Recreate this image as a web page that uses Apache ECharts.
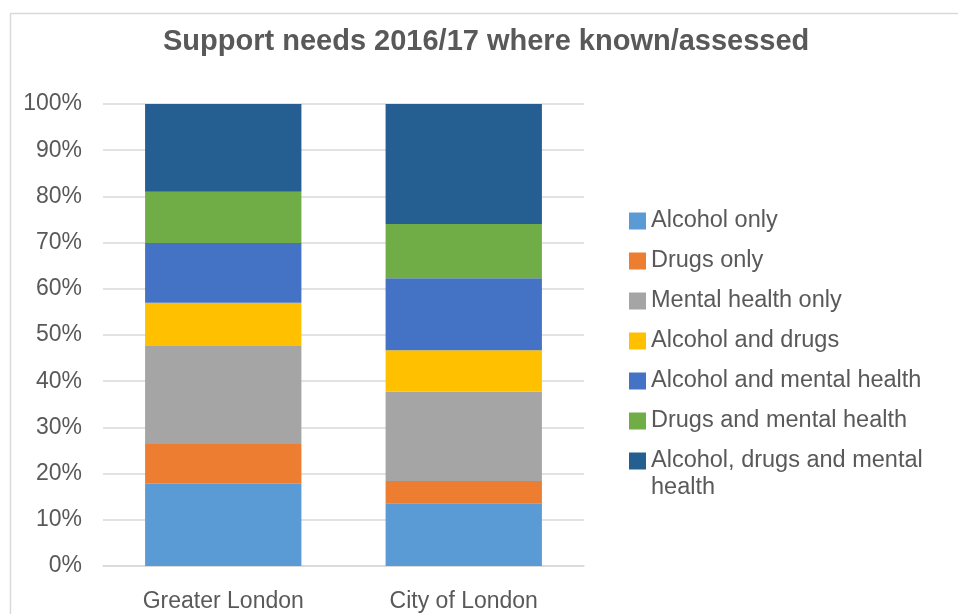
<!DOCTYPE html>
<html>
<head>
<meta charset="utf-8">
<script src="https://cdn.jsdelivr.net/npm/echarts@6/dist/echarts.min.js"></script>
<style>
html,body{margin:0;padding:0;background:#fff;}
#chart{width:958px;height:614px;}
</style>
</head>
<body>
<div id="chart"></div>
<script>
const categories = ['Greater London', 'City of London'];
const seriesNames = ['Alcohol only', 'Drugs only', 'Mental health only', 'Alcohol and drugs', 'Alcohol and mental health', 'Drugs and mental health', 'Alcohol, drugs and mental health'];
const alcoholOnly = [17.8, 13.6];
const drugsOnly = [8.6, 4.8];
const mentalHealthOnly = [21.2, 19.3];
const alcoholAndDrugs = [9.4, 9.0];
const alcoholAndMental = [12.9, 15.6];
const drugsAndMental = [11.1, 11.7];
const allThree = [19.0, 26.0];
const colors = ['#5B9BD5', '#ED7D31', '#A5A5A5', '#FFC000', '#4472C4', '#70AD47', '#255E91'];

const values = [alcoholOnly, drugsOnly, mentalHealthOnly, alcoholAndDrugs, alcoholAndMental, drugsAndMental, allThree];
const font = '"Liberation Sans", Arial, sans-serif';
const textColor = '#595959';

const chart = echarts.init(document.getElementById('chart'), null, {renderer: 'canvas'});
chart.setOption({
  animation: false,
  color: colors,
  title: {
    text: 'Support needs 2016/17 where known/assessed',
    left: 158,
    top: 22,
    textStyle: {fontFamily: font, fontSize: 29, fontWeight: 'bold', color: textColor}
  },
  graphic: [
    {type: 'rect', left: 8, top: 11, shape: {width: 1000, height: 700}, style: {fill: 'none', stroke: '#d9d9d9', lineWidth: 1.5}, silent: true, z: -1},
    {type: 'text', left: 651, top: 476, style: {text: 'health', fontFamily: font, fontSize: 23.5, fill: textColor}}
  ],
  legend: {
    orient: 'vertical',
    left: 624,
    top: 204,
    itemWidth: 17,
    itemHeight: 17,
    itemGap: 16,
    icon: 'rect',
    data: seriesNames,
    formatter: function (n) { return n === 'Alcohol, drugs and mental health' ? 'Alcohol, drugs and mental' : n; },
    textStyle: {fontFamily: font, fontSize: 23.5, color: textColor, lineHeight: 24}
  },
  grid: {left: 103, right: 374, top: 104, bottom: 48},
  xAxis: {
    type: 'category',
    data: categories,
    axisLine: {lineStyle: {color: '#d9d9d9', width: 1.5}},
    axisTick: {show: false},
    axisLabel: {fontFamily: font, fontSize: 23, color: textColor, margin: 24}
  },
  yAxis: {
    type: 'value',
    min: 0,
    max: 100,
    interval: 10,
    axisLine: {show: false},
    axisTick: {show: false},
    splitLine: {lineStyle: {color: '#d9d9d9', width: 1.5}},
    axisLabel: {fontFamily: font, fontSize: 23, color: textColor, margin: 21, formatter: '{value}%'}
  },
  series: seriesNames.map(function (name, i) {
    return {
      name: name,
      type: 'bar',
      stack: 'total',
      barWidth: '65%',
      data: values[i],
      itemStyle: {color: colors[i]}
    };
  })
});
</script>
</body>
</html>
